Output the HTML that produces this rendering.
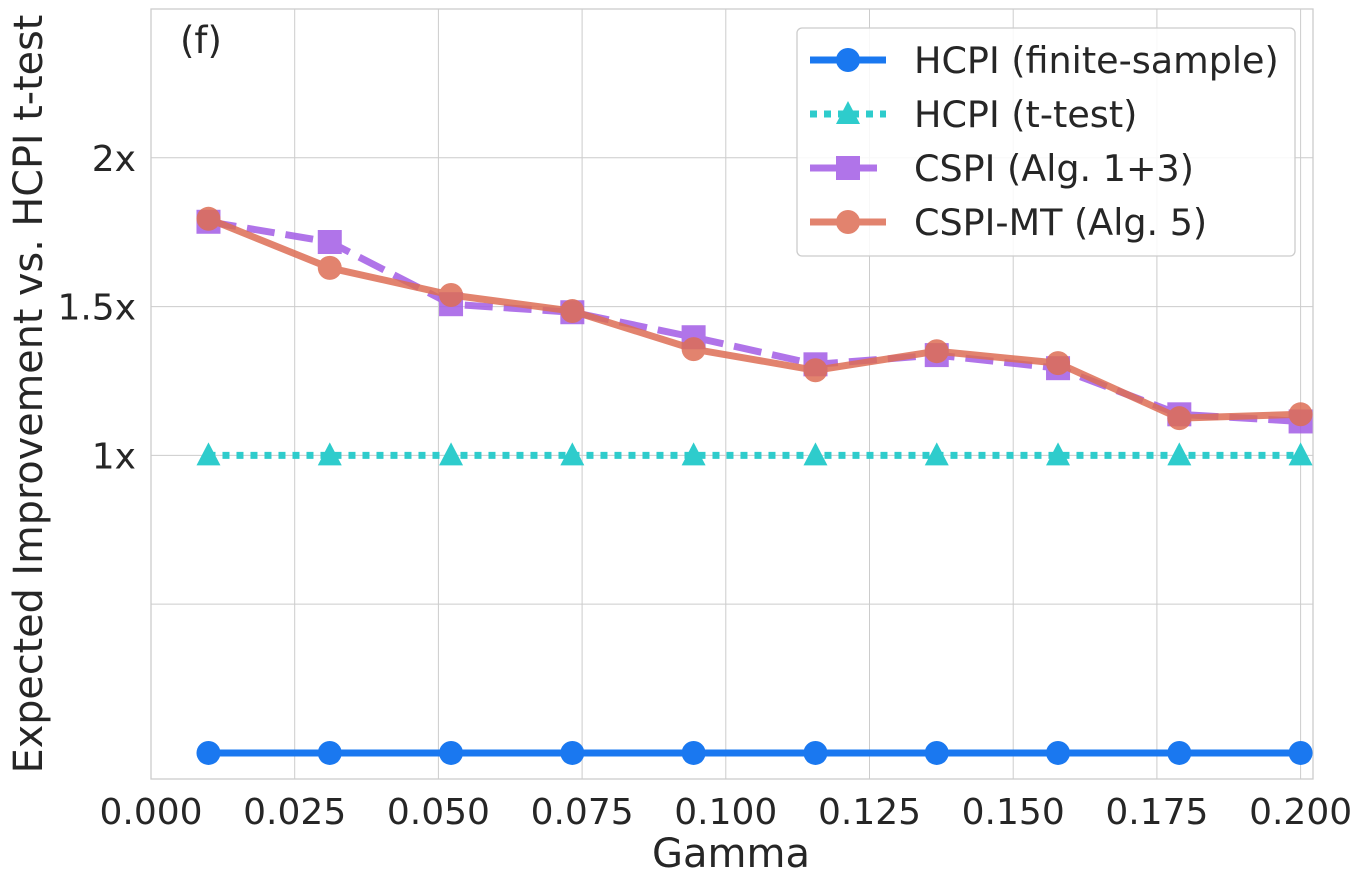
<!DOCTYPE html>
<html><head><meta charset="utf-8"><style>
body{margin:0;background:#fff;}
svg{display:block;font-family:"DejaVu Sans","Liberation Sans",sans-serif;}
</style></head><body>
<svg id="chart" width="1362" height="886"></svg>
<script>
const gammas=[0.01,0.0311,0.0522,0.0733,0.0944,0.1156,0.1367,0.1578,0.1789,0.2];
const hcpiFinite=[0,0,0,0,0,0,0,0,0,0];
const hcpiT=[1,1,1,1,1,1,1,1,1,1];
const cspi=[1.785,1.717,1.508,1.481,1.397,1.306,1.337,1.293,1.138,1.114];
const cspiMT=[1.795,1.63,1.539,1.485,1.357,1.286,1.35,1.31,1.125,1.138];
const xTicks=[0,0.025,0.05,0.075,0.1,0.125,0.15,0.175,0.2];
const xTickLabels=["0.000","0.025","0.050","0.075","0.100","0.125","0.150","0.175","0.200"];
const yTicks=[0.5,1,1.5,2];
const yTickLabels=["","1x","1.5x","2x"];

const NS="http://www.w3.org/2000/svg";
const svg=document.getElementById('chart');
const L=151,R=1313,T=9,B=779;
const X0=0,X1=(R-L)/5748;
const Y0=-0.0875,Y1=2.5;
const xs=v=>L+(v-X0)/(X1-X0)*(R-L);
const ys=v=>B-(v-Y0)/(Y1-Y0)*(B-T);
function mk(tag,attrs,parent){const e=document.createElementNS(NS,tag);for(const k in attrs)e.setAttribute(k,attrs[k]);(parent||svg).appendChild(e);return e;}

const grid=mk('g',{});


xTicks.forEach((t,i)=>{
  mk('line',{x1:xs(t),x2:xs(t),y1:T,y2:B,stroke:'#cccccc','stroke-width':1},grid);
  const tx=mk('text',{x:xs(t),y:824,'text-anchor':'middle','font-size':36,fill:'#262626'});
  tx.textContent=xTickLabels[i];
  
  
});
yTicks.forEach((t,i)=>{
  mk('line',{x1:L,x2:R,y1:ys(t),y2:ys(t),stroke:'#cccccc','stroke-width':1},grid);
  const tx=mk('text',{x:136,y:ys(t)+13,'text-anchor':'end','font-size':36,fill:'#262626'});
  tx.textContent=yTickLabels[i];
  
  
});
const frame=mk('rect',{x:L,y:T,width:R-L,height:B-T,fill:'none',stroke:'#cccccc','stroke-width':1.3});



function series(name,vals,color,dash,marker,opacity){
  const g=mk('g',{opacity:opacity});
  
  
  const pts=vals.map((v,i)=>xs(gammas[i])+','+ys(v)).join(' ');
  mk('polyline',{points:pts,fill:'none',stroke:color,'stroke-width':7,'stroke-dasharray':dash,'stroke-linejoin':'round'},g);
  vals.forEach((v,i)=>{drawMarker(g,marker,xs(gammas[i]),ys(v),color);});
}
function drawMarker(g,m,x,y,c){
  let e;
  if(m==='circle')e=mk('circle',{cx:x,cy:y,r:12,fill:c},g);
  else if(m==='tri')e=mk('polygon',{points:`${x},${y-13} ${x-12},${y+10} ${x+12},${y+10}`,fill:c},g);
  else e=mk('rect',{x:x-12,y:y-12,width:24,height:24,fill:c},g);
  
  
}
series('series-hcpi-finite',hcpiFinite,'#1a78f0','none','circle',1);
series('series-hcpi-ttest',hcpiT,'#2ecccc','7 7','tri',1);
series('series-cspi',cspi,'#a35ce6','28 11','square',0.85);
series('series-cspi-mt',cspiMT,'#dd6e55','none','circle',0.85);

const lab=mk('text',{x:180,y:53,'font-size':37,fill:'#262626'});lab.textContent='(f)';


const xt=mk('text',{x:731,y:867,'text-anchor':'middle','font-size':40,fill:'#262626'});xt.textContent='Gamma';

const yt=mk('text',{x:0,y:0,'text-anchor':'middle','font-size':39.7,fill:'#262626',transform:'translate(42,394) rotate(-90)'});yt.textContent='Expected Improvement vs. HCPI t-test';


const leg=mk('g',{});

mk('rect',{x:797,y:28,width:498,height:228,rx:5,fill:'#fff','fill-opacity':0.85,stroke:'#cccccc','stroke-width':1.3},leg);
const items=[['HCPI (finite-sample)','#1a78f0','none','circle',1],['HCPI (t-test)','#2ecccc','7 7','tri',1],['CSPI (Alg. 1+3)','#a35ce6','28 11','square',0.85],['CSPI-MT (Alg. 5)','#dd6e55','none','circle',0.85]];
items.forEach((it,i)=>{
  const y=60+i*54;
  const g=mk('g',{opacity:it[4]},leg);
  
  mk('line',{x1:810,x2:886,y1:y,y2:y,stroke:it[1],'stroke-width':7,'stroke-dasharray':it[2]},g);
  drawMarker(g,it[3],848,y,it[1]);
  const t=mk('text',{x:914,y:y+13,'font-size':36.5,fill:'#262626'},leg);t.textContent=it[0];
  
});
</script>
</body></html>
